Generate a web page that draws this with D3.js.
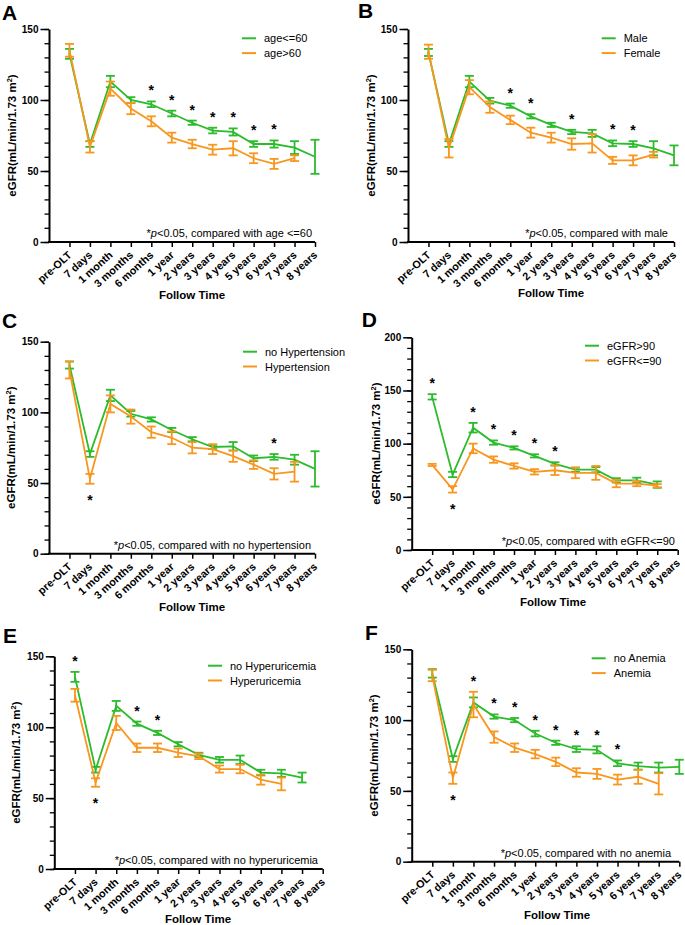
<!DOCTYPE html>
<html><head><meta charset="utf-8">
<script src="https://cdn.jsdelivr.net/npm/d3@7"></script>
<style>
body{margin:0;background:#fff}
svg{display:block}
text{font-family:"Liberation Sans",Arial,Helvetica,sans-serif;fill:#000}
</style>
</head><body>
<svg id="chart" width="685" height="925"></svg>
<script>
// ---------- DATA ----------
const categories = ["pre-OLT","7 days","1 month","3 months","6 months","1 year","2 years","3 years","4 years","5 years","6 years","7 years","8 years"];
const yTicks150 = [0, 50, 100, 150];
const yTicks200 = [0, 50, 100, 150, 200];

// A: age
const ageLe60Mean = [132.5, 69, 113, 100, 97, 90.5, 84, 78.5, 77.5, 69, 69, 66.5, 60];
const ageLe60Err  = [3.5, 2, 4, 2, 2, 2, 1.5, 2, 2.5, 2, 2.5, 4.5, 12];
const ageGt60Mean = [135, 67, 108, 94, 85, 73.5, 69, 65, 66, 59, 55, 59, null];
const ageGt60Err  = [4.5, 4, 5, 4, 3.5, 3.5, 3, 3.5, 5, 3.5, 3.5, 2, null];
const ageSigAbove = [4, 5, 6, 7, 8, 9, 10];
const ageSigBelow = [];

// B: sex
const maleMean   = [133.5, 69, 113, 99.5, 96, 88.5, 82.5, 77.5, 76.5, 69.5, 69, 66, 61];
const maleErr    = [2.5, 2, 4, 2, 1.5, 1.5, 1.5, 1.5, 2.5, 2, 2, 5, 7];
const femaleMean = [134, 66, 109, 95, 86, 77, 73.5, 69, 69.5, 57.5, 57.5, 61.5, null];
const femaleErr  = [5, 6.5, 5, 4, 3, 3.5, 3.5, 4, 6.5, 2.5, 3.5, 2, null];
const sexSigAbove = [4, 5, 7, 9, 10];
const sexSigBelow = [];

// C: hypertension
const noHtnMean = [133.5, 70.5, 112, 99, 95, 87.5, 81, 75.5, 76, 67.5, 68.5, 66.5, 60];
const noHtnErr  = [2.5, 2, 4, 2, 1.5, 1.5, 1.5, 1.5, 3, 2, 2, 3.5, 12.5];
const htnMean   = [130, 53, 106, 97, 86, 82, 75, 74, 69, 63, 56.5, 58, null];
const htnErr    = [6, 3.5, 6, 5, 4, 4.5, 4, 3.5, 4, 3, 4, 7, null];
const htnSigAbove = [10];
const htnSigBelow = [1];

// D: baseline eGFR
const gfrHighMean = [144, 71, 115, 101, 96, 88.5, 81, 75.5, 75.5, 65.5, 65.5, 61.5, null];
const gfrHighErr  = [2.5, 2.5, 4.5, 2, 1.5, 1.5, 1.5, 2, 2.5, 2, 2.5, 3, null];
const gfrLowMean  = [80, 57, 95.5, 85, 79, 73.5, 75, 72.5, 72.5, 62.5, 62.5, 60.5, null];
const gfrLowErr   = [1, 3, 4.5, 3, 2.5, 2.5, 4.5, 5, 6.5, 3.5, 2.5, 1.5, null];
const gfrSigAbove = [0, 2, 3, 4, 5, 6];
const gfrSigBelow = [1];

// E: hyperuricemia
const noHuaMean = [135.5, 70, 115, 102.5, 96, 88, 80.5, 77, 77, 68, 67.5, 64.5, null];
const noHuaErr  = [3.5, 2, 3.5, 1.5, 1.5, 1.5, 1.5, 2, 3, 2, 2.5, 3.5, null];
const huaMean   = [122.5, 61, 103, 85.5, 85.5, 82, 79.5, 70.5, 70.5, 63, 60, null, null];
const huaErr    = [4.5, 3, 5, 3, 3, 3, 2, 2.5, 3, 3.5, 4.5, null, null];
const huaSigAbove = [0, 3, 4];
const huaSigBelow = [1];

// F: anemia
const noAnemiaMean = [133, 72.5, 112.5, 102.5, 100, 90.5, 84, 79.5, 79, 69.5, 67.5, 66.5, 67];
const noAnemiaErr  = [3, 2, 3.5, 1.5, 1.5, 2, 1.5, 2, 2.5, 2, 2.5, 3.5, 5];
const anemiaMean   = [131.5, 59, 111, 88, 80.5, 76, 70.5, 63, 62, 58, 60, 55, null];
const anemiaErr    = [4, 4, 9, 4, 3, 3, 3, 3, 3.5, 3.5, 5, 7.5, null];
const anemiaSigAbove = [2, 3, 4, 5, 6, 7, 8, 9];
const anemiaSigBelow = [1];

// ---------- STYLE / LAYOUT ----------
const GREEN = "#2cbb2c";
const ORANGE = "#f8961e";

const panels = [
  {letter:"A", lx:2, ly:20, gName:"age<=60", oName:"age>60", g:ageLe60Mean, ge:ageLe60Err, o:ageGt60Mean, oe:ageGt60Err,
   up:ageSigAbove, dn:ageSigBelow, note:"<0.05, compared with age <=60", yTicks:yTicks150,
   ax0:49, ax1:315, yTop:29, y0:242, legX:242, legY:38.3, noteX:312, ylabX:16, ftX:192, ftY:299},
  {letter:"B", lx:358, ly:18.3, gName:"Male", oName:"Female", g:maleMean, ge:maleErr, o:femaleMean, oe:femaleErr,
   up:sexSigAbove, dn:sexSigBelow, note:"<0.05, compared with male", yTicks:yTicks150,
   ax0:408, ax1:674, yTop:29, y0:242, legX:601.7, legY:38.3, noteX:668, ylabX:375, ftX:551, ftY:297},
  {letter:"C", lx:2, ly:328, gName:"no Hypertension", oName:"Hypertension", g:noHtnMean, ge:noHtnErr, o:htnMean, oe:htnErr,
   up:htnSigAbove, dn:htnSigBelow, note:"<0.05, compared with no hypertension", yTicks:yTicks150,
   ax0:49, ax1:315, yTop:341.7, y0:553.7, legX:243, legY:351.7, noteX:311, ylabX:15, ftX:192, ftY:611},
  {letter:"D", lx:361.7, ly:327, gName:"eGFR>90", oName:"eGFR<=90", g:gfrHighMean, ge:gfrHighErr, o:gfrLowMean, oe:gfrLowErr,
   up:gfrSigAbove, dn:gfrSigBelow, note:"<0.05, compared with eGFR<=90", yTicks:yTicks200,
   ax0:411.7, ax1:677.7, yTop:337.3, y0:550, legX:585, legY:345.7, noteX:675, ylabX:380, ftX:553, ftY:606},
  {letter:"E", lx:3, ly:643, gName:"no Hyperuricemia", oName:"Hyperuricemia", g:noHuaMean, ge:noHuaErr, o:huaMean, oe:huaErr,
   up:huaSigAbove, dn:huaSigBelow, note:"<0.05, compared with no hyperuricemia", yTicks:yTicks150,
   ax0:54.3, ax1:322.7, yTop:656.3, y0:869, legX:208, legY:665.7, noteX:318, ylabX:20, ftX:198, ftY:923},
  {letter:"F", lx:365, ly:640, gName:"no Anemia", oName:"Anemia", g:noAnemiaMean, ge:noAnemiaErr, o:anemiaMean, oe:anemiaErr,
   up:anemiaSigAbove, dn:anemiaSigBelow, note:"<0.05, compared with no anemia", yTicks:yTicks150,
   ax0:411.7, ax1:679.3, yTop:649.3, y0:861.7, legX:591.7, legY:658.3, noteX:671, ylabX:378, ftX:557, ftY:919}
];

const svg = d3.select("#chart");

panels.forEach(p => {
  const yMax = d3.max(p.yTicks);
  const step = (p.ax1 - p.ax0) / 13;
  const x = d3.scalePoint().domain(categories).range([p.ax0, p.ax1 + step]).padding(1);
  const y = d3.scaleLinear().domain([0, yMax]).range([p.y0, p.yTop]);
  const g = svg.append("g");

  // panel letter
  g.append("text").attr("x", p.lx).attr("y", p.ly).attr("font-size", 21).attr("font-weight", "bold").text(p.letter);

  // minor y ticks
  const minor = g.append("g").attr("transform", `translate(${p.ax0},0)`)
    .call(d3.axisLeft(y).tickValues(d3.range(0, yMax + 1, 10)).tickSize(4.5).tickFormat(""));
  minor.select(".domain").remove();
  minor.selectAll("line").attr("stroke", "#000").attr("stroke-width", 1.3);

  // major y axis
  const ya = g.append("g").attr("transform", `translate(${p.ax0},0)`)
    .call(d3.axisLeft(y).tickValues(p.yTicks).tickSize(8.5).tickSizeOuter(0));
  ya.select(".domain").attr("stroke", "#000").attr("stroke-width", 2);
  ya.selectAll("line").attr("stroke", "#000").attr("stroke-width", 1.5);
  ya.selectAll("text").attr("x", -10.5).attr("font-size", 10).attr("font-weight", "bold")
    .attr("font-family", "Liberation Sans, Arial, sans-serif").attr("fill", "#000");

  // x axis
  const xa = g.append("g").attr("transform", `translate(0,${p.y0})`)
    .call(d3.axisBottom(x).tickSize(5).tickSizeOuter(0));
  xa.select(".domain").remove();
  xa.selectAll("line").attr("stroke", "#000").attr("stroke-width", 1.5);
  xa.selectAll("text")
    .attr("x", 0).attr("y", 0).attr("dy", 0)
    .attr("transform", "translate(2.5,14) rotate(-42)")
    .attr("text-anchor", "end")
    .attr("font-size", 10.8).attr("font-weight", "bold")
    .attr("font-family", "Liberation Sans, Arial, sans-serif").attr("fill", "#000");
  g.append("line").attr("x1", p.ax0 - 1).attr("x2", p.ax1).attr("y1", p.y0).attr("y2", p.y0)
    .attr("stroke", "#000").attr("stroke-width", 2);

  // y label
  const yl = g.append("text")
    .attr("transform", `translate(${p.ylabX},${(p.yTop + p.y0) / 2}) rotate(-90)`)
    .attr("text-anchor", "middle").attr("font-size", 11.5).attr("font-weight", "bold");
  yl.append("tspan").text("eGFR(mL/min/1.73 m");
  yl.append("tspan").attr("font-size", 7.5).attr("dy", -4.5).text("2");
  yl.append("tspan").attr("dy", 4.5).text(")");

  // x title
  g.append("text").attr("x", p.ftX).attr("y", p.ftY).attr("text-anchor", "middle")
    .attr("font-size", 11.5).attr("font-weight", "bold").text("Follow Time");

  // series
  const series = [
    {m: p.g, e: p.ge, c: GREEN},
    {m: p.o, e: p.oe, c: ORANGE}
  ];
  const line = d3.line().defined(d => d.v != null).x(d => x(d.c)).y(d => y(d.v));
  series.forEach(s => {
    const pts = categories.map((c, i) => ({c, v: s.m[i], e: s.e[i]}));
    g.append("path").datum(pts).attr("d", line).attr("fill", "none")
      .attr("stroke", s.c).attr("stroke-width", 1.8);
    const eb = g.append("g").attr("stroke", s.c).attr("stroke-width", 1.8);
    pts.filter(d => d.v != null).forEach(d => {
      const cx = x(d.c), yl0 = y(d.v - d.e), yh = y(d.v + d.e);
      eb.append("line").attr("x1", cx).attr("x2", cx).attr("y1", yl0).attr("y2", yh);
      eb.append("line").attr("x1", cx - 4.5).attr("x2", cx + 4.5).attr("y1", yl0).attr("y2", yl0);
      eb.append("line").attr("x1", cx - 4.5).attr("x2", cx + 4.5).attr("y1", yh).attr("y2", yh);
    });
  });

  // significance asterisks
  const hi = i => d3.max([p.g[i] != null ? p.g[i] + p.ge[i] : null, p.o[i] != null ? p.o[i] + p.oe[i] : null]);
  const lo = i => d3.min([p.g[i] != null ? p.g[i] - p.ge[i] : null, p.o[i] != null ? p.o[i] - p.oe[i] : null]);
  p.up.forEach(i => {
    g.append("text").attr("x", x(categories[i])).attr("y", y(hi(i)) - 14 + 8)
      .attr("text-anchor", "middle").attr("font-size", 14).attr("font-weight", "bold").text("*");
  });
  p.dn.forEach(i => {
    g.append("text").attr("x", x(categories[i])).attr("y", y(lo(i)) + 13 + 8)
      .attr("text-anchor", "middle").attr("font-size", 14).attr("font-weight", "bold").text("*");
  });

  // legend
  [[p.gName, GREEN], [p.oName, ORANGE]].forEach((d, k) => {
    const ly = p.legY + k * 14.8;
    g.append("line").attr("x1", p.legX).attr("x2", p.legX + 14).attr("y1", ly).attr("y2", ly)
      .attr("stroke", d[1]).attr("stroke-width", 2);
    g.append("text").attr("x", p.legX + 22).attr("y", ly + 4).attr("font-size", 11).text(d[0]);
  });

  // note
  const nt = g.append("text").attr("x", p.noteX).attr("y", p.y0 - 5).attr("text-anchor", "end").attr("font-size", 11);
  nt.append("tspan").text("*");
  nt.append("tspan").attr("font-style", "italic").text("p");
  nt.append("tspan").text(p.note);
});
</script>
</body></html>
